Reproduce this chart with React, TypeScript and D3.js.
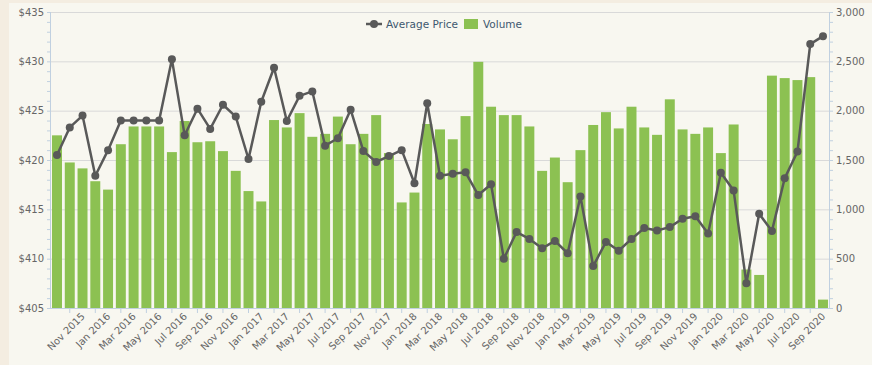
import React, { useEffect, useRef } from 'react';
import * as d3 from 'd3';

// months on the x axis, Sep 2015 .. Sep 2020
const months = [
  'Sep 2015', 'Oct 2015', 'Nov 2015', 'Dec 2015',
  'Jan 2016', 'Feb 2016', 'Mar 2016', 'Apr 2016', 'May 2016', 'Jun 2016',
  'Jul 2016', 'Aug 2016', 'Sep 2016', 'Oct 2016', 'Nov 2016', 'Dec 2016',
  'Jan 2017', 'Feb 2017', 'Mar 2017', 'Apr 2017', 'May 2017', 'Jun 2017',
  'Jul 2017', 'Aug 2017', 'Sep 2017', 'Oct 2017', 'Nov 2017', 'Dec 2017',
  'Jan 2018', 'Feb 2018', 'Mar 2018', 'Apr 2018', 'May 2018', 'Jun 2018',
  'Jul 2018', 'Aug 2018', 'Sep 2018', 'Oct 2018', 'Nov 2018', 'Dec 2018',
  'Jan 2019', 'Feb 2019', 'Mar 2019', 'Apr 2019', 'May 2019', 'Jun 2019',
  'Jul 2019', 'Aug 2019', 'Sep 2019', 'Oct 2019', 'Nov 2019', 'Dec 2019',
  'Jan 2020', 'Feb 2020', 'Mar 2020', 'Apr 2020', 'May 2020', 'Jun 2020',
  'Jul 2020', 'Aug 2020', 'Sep 2020',
];

const volume = [
  1750, 1475, 1415, 1285,
  1200, 1660, 1840, 1840, 1840, 1580, 1895, 1680, 1690, 1590, 1390, 1185,
  1080, 1905, 1830, 1975, 1735, 1765, 1940, 1660, 1765, 1955, 1570, 1070,
  1170, 1865, 1810, 1710, 1945, 2495, 2040, 1955, 1955, 1840, 1390, 1525,
  1275, 1600, 1855, 1985, 1820, 2040, 1830, 1755, 2115, 1810, 1765, 1830,
  1570, 1860, 390, 335, 2355, 2330, 2310, 2340, 85,
];

const avgPrice = [
  420.5, 423.3, 424.5, 418.4,
  421.0, 424.0, 424.0, 424.0, 424.0, 430.2, 422.5, 425.2, 423.15, 425.6, 424.4, 420.1,
  425.9, 429.35, 423.95, 426.5, 426.95, 421.45, 422.2, 425.1, 420.9, 419.8, 420.4, 421.0,
  417.65, 425.75, 418.4, 418.6, 418.75, 416.45, 417.55, 410.0, 412.7, 412.0, 411.05, 411.8,
  410.55, 416.3, 409.25, 411.7, 410.8, 412.0, 413.1, 412.85, 413.2, 414.05, 414.3, 412.55,
  418.7, 416.9, 407.5, 414.55, 412.8, 418.15, 420.85, 431.75, 432.55,
];

const priceTicks = [405, 410, 415, 420, 425, 430, 435];
const volumeTicks = [0, 500, 1000, 1500, 2000, 2500, 3000];

const BAR = '#8cc152';
const LINE = '#595959';
const FONT = '"DejaVu Sans", Verdana, sans-serif';

const App = () => {
  const ref = useRef<SVGSVGElement>(null);

  useEffect(() => {
    const width = 872;
    const height = 365;
    const left = 51;
    const right = 829;
    const top = 12;
    const bottom = 308;

    const svg = d3.select(ref.current);
    svg.selectAll('*').remove();

    // page + chart backgrounds
    svg.append('rect').attr('width', width).attr('height', height).attr('fill', '#f4ede1');
    svg.append('rect').attr('x', 9).attr('y', 3).attr('width', width - 9).attr('height', height - 3)
      .attr('fill', '#f8f7f0');

    const x = d3.scaleBand<string>().domain(months).range([left, right])
      .paddingInner(0.22).paddingOuter(0.08);
    const yP = d3.scaleLinear().domain([405, 435]).range([bottom, top]);
    const yV = d3.scaleLinear().domain([0, 3000]).range([bottom, top]);

    // grid
    svg.append('g').selectAll('line').data(priceTicks).join('line')
      .attr('x1', left).attr('x2', right)
      .attr('y1', d => yP(d) + 0.5).attr('y2', d => yP(d) + 0.5)
      .attr('stroke', '#d9d9d9').attr('stroke-width', 1);

    // bars
    svg.append('g').selectAll('rect').data(volume).join('rect')
      .attr('x', (d, i) => x(months[i])!)
      .attr('width', x.bandwidth())
      .attr('y', d => yV(d))
      .attr('height', d => bottom - yV(d))
      .attr('fill', BAR);

    // axes lines + minor ticks
    const axisColor = '#c0d0e0';
    svg.append('line').attr('x1', left - 0.5).attr('x2', left - 0.5).attr('y1', top).attr('y2', bottom)
      .attr('stroke', axisColor);
    svg.append('line').attr('x1', right + 0.5).attr('x2', right + 0.5).attr('y1', top).attr('y2', bottom)
      .attr('stroke', axisColor);
    svg.append('line').attr('x1', left).attr('x2', right).attr('y1', bottom + 0.5).attr('y2', bottom + 0.5)
      .attr('stroke', axisColor);

    svg.append('g').selectAll('line').data(d3.range(405, 435.5, 1)).join('line')
      .attr('x1', left - 4).attr('x2', left)
      .attr('y1', d => yP(d) + 0.5).attr('y2', d => yP(d) + 0.5)
      .attr('stroke', axisColor);
    svg.append('g').selectAll('line').data(d3.range(0, 3001, 100)).join('line')
      .attr('x1', right).attr('x2', right + 4)
      .attr('y1', d => yV(d) + 0.5).attr('y2', d => yV(d) + 0.5)
      .attr('stroke', axisColor);

    // x ticks at every other month
    const tickMonths = months.filter((m, i) => i % 2 === 1);
    svg.append('g').selectAll('line').data(tickMonths).join('line')
      .attr('x1', d => x(d)! + x.bandwidth() / 2).attr('x2', d => x(d)! + x.bandwidth() / 2)
      .attr('y1', bottom).attr('y2', bottom + 5)
      .attr('stroke', axisColor);

    // y labels
    svg.append('g').selectAll('text').data(priceTicks).join('text')
      .attr('x', left - 7).attr('y', d => yP(d)).attr('dy', '0.35em')
      .attr('text-anchor', 'end')
      .style('font', `10px ${FONT}`).attr('fill', '#666')
      .text(d => `$${d}`);

    svg.append('g').selectAll('text').data(volumeTicks).join('text')
      .attr('x', right + 7).attr('y', d => yV(d)).attr('dy', '0.35em')
      .attr('text-anchor', 'start')
      .style('font', `10px ${FONT}`).attr('fill', '#666')
      .text(d => d3.format(',')(d));

    // x labels
    const labelMonths = months.filter((m, i) => i % 2 === 0 && i > 0);
    svg.append('g').selectAll('text').data(labelMonths).join('text')
      .attr('transform', d => `translate(${x(d)! + x.bandwidth() / 2 + 3},${bottom + 9}) rotate(-45)`)
      .attr('text-anchor', 'end')
      .style('font', `10px ${FONT}`).attr('fill', '#666')
      .text(d => d);

    // price line
    const line = d3.line<number>()
      .x((d, i) => x(months[i])! + x.bandwidth() / 2)
      .y(d => yP(d));

    svg.append('path').datum(avgPrice)
      .attr('fill', 'none').attr('stroke', LINE).attr('stroke-width', 2.5)
      .attr('stroke-linejoin', 'round')
      .attr('d', line);

    svg.append('g').selectAll('circle').data(avgPrice).join('circle')
      .attr('cx', (d, i) => x(months[i])! + x.bandwidth() / 2)
      .attr('cy', d => yP(d))
      .attr('r', 4).attr('fill', LINE);

    // legend
    const legend = svg.append('g');
    legend.append('line').attr('x1', 366).attr('x2', 382).attr('y1', 24).attr('y2', 24)
      .attr('stroke', LINE).attr('stroke-width', 2.5);
    legend.append('circle').attr('cx', 374).attr('cy', 24).attr('r', 4).attr('fill', LINE);
    legend.append('text').attr('x', 386).attr('y', 28)
      .style('font', `10.5px ${FONT}`).attr('fill', '#3e576f').text('Average Price');
    legend.append('rect').attr('x', 464).attr('y', 19).attr('width', 14).attr('height', 10)
      .attr('fill', BAR);
    legend.append('text').attr('x', 483).attr('y', 28)
      .style('font', `10.5px ${FONT}`).attr('fill', '#3e576f').text('Volume');
  }, []);

  return (
    <svg
      ref={ref}
      width={872}
      height={365}
      style={{ position: 'fixed', left: 0, top: 0, display: 'block' }}
    />
  );
};

export default App;
